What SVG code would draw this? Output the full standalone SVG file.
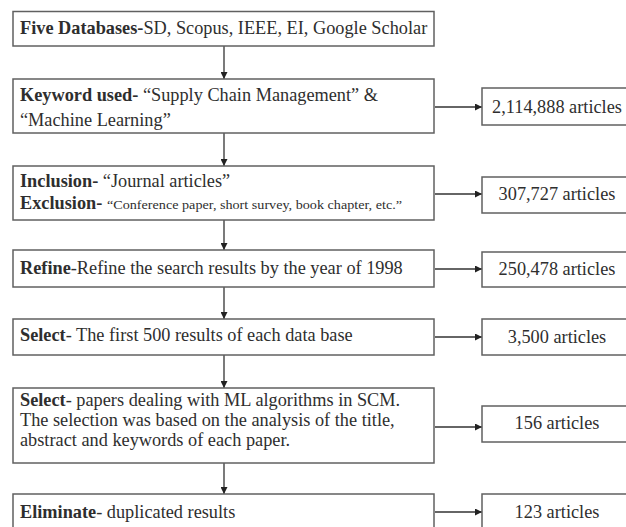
<svg xmlns="http://www.w3.org/2000/svg" width="626" height="527" viewBox="0 0 626 527">
<style>
rect{fill:#fff;stroke:#606060;stroke-width:1.5}
text{font-family:"Liberation Serif","Times New Roman",serif;font-size:18.3px;fill:#2e2e2e}
.b{font-weight:bold}
.s{font-size:11.5px}
.c{text-anchor:middle}
.ln{stroke:#333;stroke-width:1.3;fill:none;marker-end:url(#ah)}
</style>
<defs>
<marker id="ah" viewBox="0 0 10 10" refX="10" refY="5" markerWidth="7" markerHeight="7" markerUnits="userSpaceOnUse" orient="auto">
<path d="M0,0 L10,5 L0,10 z" fill="#222"/>
</marker>
</defs>
<g id="connectors">
<line class="ln" x1="224" y1="46" x2="224" y2="79"/>
<line class="ln" x1="224" y1="133" x2="224" y2="166"/>
<line class="ln" x1="224" y1="220" x2="224" y2="250"/>
<line class="ln" x1="224" y1="287" x2="224" y2="319"/>
<line class="ln" x1="224" y1="355" x2="224" y2="388"/>
<line class="ln" x1="224" y1="463" x2="224" y2="494"/>
<line class="ln" x1="435" y1="107" x2="482" y2="107"/>
<line class="ln" x1="435" y1="194" x2="482" y2="194"/>
<line class="ln" x1="435" y1="269" x2="482" y2="269"/>
<line class="ln" x1="435" y1="337" x2="482" y2="337"/>
<line class="ln" x1="435" y1="427" x2="482" y2="427"/>
<line class="ln" x1="435" y1="512" x2="482" y2="512"/>
</g>
<g id="n1"><rect x="13" y="11.5" width="421" height="34.5"/>
<text x="20" y="34"><tspan class="b">Five Databases-</tspan>SD, Scopus, IEEE, EI, Google Scholar</text></g>
<g id="n2"><rect x="13" y="79" width="421" height="54"/>
<text x="20" y="101"><tspan class="b">Keyword used-</tspan> “Supply Chain Management” &amp;</text>
<text x="20" y="126">“Machine Learning”</text></g>
<g id="n3"><rect x="13" y="166" width="421" height="54"/>
<text x="20" y="187"><tspan class="b">Inclusion-</tspan> “Journal articles”</text>
<text x="20" y="209"><tspan class="b">Exclusion-</tspan></text>
<text class="s" x="107" y="209" textLength="295" lengthAdjust="spacingAndGlyphs">“Conference paper, short survey, book chapter, etc.”</text></g>
<g id="n4"><rect x="13" y="250" width="421" height="37"/>
<text x="20" y="274"><tspan class="b">Refine</tspan>-Refine the search results by the year of 1998</text></g>
<g id="n5"><rect x="13" y="319" width="421" height="36"/>
<text x="20" y="341"><tspan class="b">Select</tspan>- The first 500 results of each data base</text></g>
<g id="n6"><rect x="13" y="388" width="421" height="75"/>
<text x="20" y="406"><tspan class="b">Select</tspan>- papers dealing with ML algorithms in SCM.</text>
<text x="20" y="426">The selection was based on the analysis of the title,</text>
<text x="20" y="446">abstract and keywords of each paper.</text></g>
<g id="n7"><rect x="13" y="494" width="421" height="40"/>
<text x="20" y="518"><tspan class="b">Eliminate</tspan>- duplicated results</text></g>
<g id="r1"><rect x="482" y="88" width="150" height="37"/><text class="c" x="557" y="113">2,114,888 articles</text></g>
<g id="r2"><rect x="482" y="177" width="150" height="36"/><text class="c" x="557" y="200">307,727 articles</text></g>
<g id="r3"><rect x="482" y="252" width="150" height="35"/><text class="c" x="557" y="275">250,478 articles</text></g>
<g id="r4"><rect x="482" y="319" width="150" height="36"/><text class="c" x="557" y="343">3,500 articles</text></g>
<g id="r5"><rect x="482" y="406" width="150" height="36"/><text class="c" x="557" y="429">156 articles</text></g>
<g id="r6"><rect x="482" y="494" width="150" height="40"/><text class="c" x="557" y="518">123 articles</text></g>
</svg>
